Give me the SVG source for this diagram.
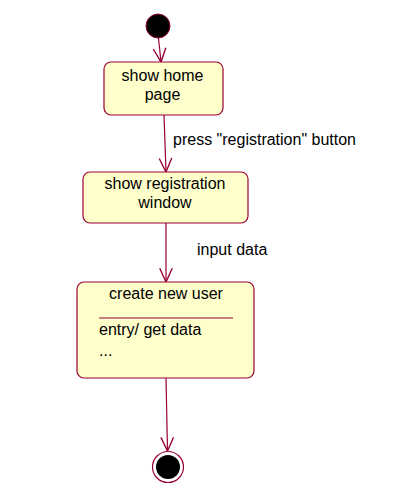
<svg xmlns="http://www.w3.org/2000/svg" width="408" height="498" viewBox="0 0 408 498">
<style>
.node{fill:#ffffcc;stroke:#990033;stroke-width:1.2}
.conn{fill:none;stroke:#990033;stroke-width:1.2}
text{font-family:"Liberation Sans",Arial,sans-serif;font-size:16px;fill:#000}
.c{text-anchor:middle}
</style>
<defs>
<marker id="arr" markerUnits="userSpaceOnUse" markerWidth="16" markerHeight="16" viewBox="-13 -7 14 14" refX="0" refY="0" orient="auto">
<path d="M-12,-5.5 L0,0 L-12,5.5" fill="none" stroke="#990033" stroke-width="1.2"/>
</marker>
</defs>
<rect width="408" height="498" fill="#fff"/>
<g id="connectors">
<line class="conn" x1="158.5" y1="38" x2="161" y2="62" marker-end="url(#arr)"/>
<line class="conn" x1="164" y1="115" x2="166" y2="172" marker-end="url(#arr)"/>
<line class="conn" x1="166" y1="223" x2="166" y2="282" marker-end="url(#arr)"/>
<line class="conn" x1="166" y1="378" x2="167.5" y2="451" marker-end="url(#arr)"/>
<text x="173" y="145">press "registration" button</text>
<text x="197" y="255">input data</text>
</g>
<g id="start">
<circle cx="158" cy="26" r="12" fill="#000" stroke="#990033" stroke-width="1"/>
</g>
<g id="show-home-page">
<rect class="node" x="104" y="62" width="119" height="53" rx="7"/>
<text class="c" x="162.5" y="81">show home</text>
<text class="c" x="162.5" y="100">page</text>
</g>
<g id="show-registration-window">
<rect class="node" x="83" y="172" width="165" height="51" rx="7"/>
<text class="c" x="165" y="189">show registration</text>
<text class="c" x="165" y="208">window</text>
</g>
<g id="create-new-user">
<rect class="node" x="77" y="282" width="177" height="96" rx="7"/>
<text class="c" x="166" y="299">create new user</text>
<line x1="99" y1="318" x2="233" y2="318" stroke="#990033" stroke-width="1.2"/>
<text x="99" y="335">entry/ get data</text>
<text x="99" y="356">...</text>
</g>
<g id="end">
<circle cx="168" cy="467" r="15.5" fill="#fff" stroke="#990033" stroke-width="1.2"/>
<circle cx="168" cy="467" r="12" fill="#000"/>
</g>
</svg>
